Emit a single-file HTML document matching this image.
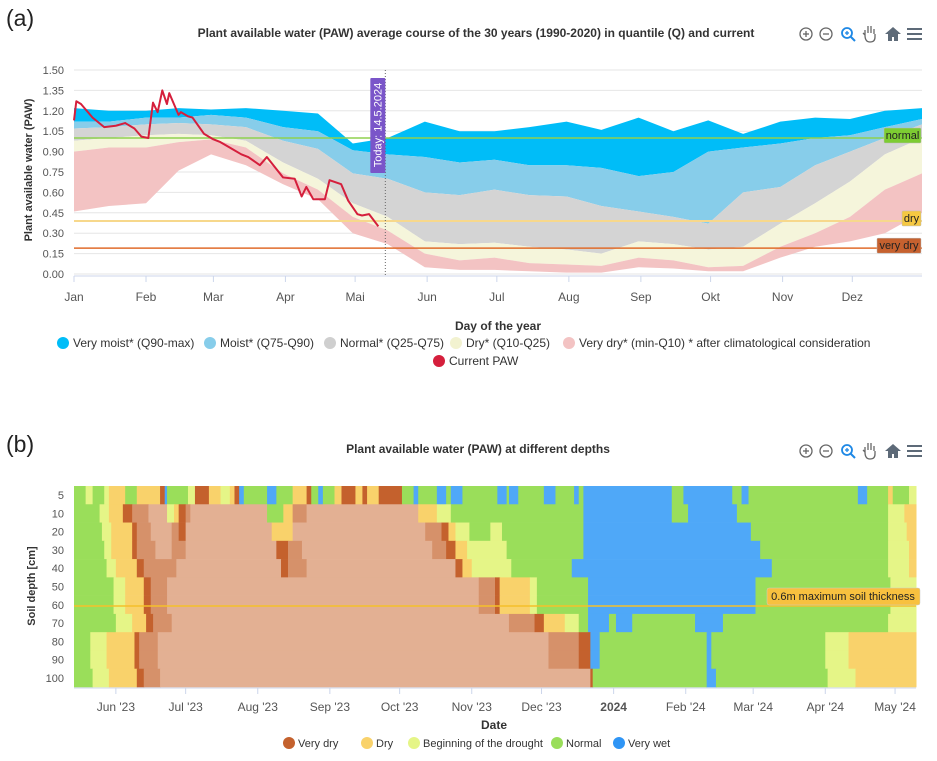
<!DOCTYPE html>
<html><head><meta charset="utf-8"><style>
body{margin:0;background:#fff;font-family:"Liberation Sans",sans-serif;}
svg text{font-family:"Liberation Sans",sans-serif;}
</style></head><body>
<svg id="s" width="937" height="756" viewBox="0 0 937 756" xmlns="http://www.w3.org/2000/svg">
<text x="6" y="26" font-size="23" fill="#222">(a)</text>
<text x="476" y="37" font-size="12" font-weight="bold" fill="#333" text-anchor="middle">Plant available water (PAW) average course of the 30 years (1990-2020) in quantile (Q) and current</text>
<g id="gA"></g>
<text x="6" y="452" font-size="23" fill="#222">(b)</text>
<text x="478" y="453" font-size="12" font-weight="bold" fill="#333" text-anchor="middle">Plant available water (PAW) at different depths</text>
<g id="gB"></g>
</svg>
<script>
// ---------- Chart A data ----------
const bandDays=[0,15,31,45,59,74,90,105,120,135,151,166,181,196,212,227,243,258,273,288,304,319,334,349,365];
const qMax=[1.22,1.20,1.20,1.22,1.21,1.22,1.20,1.18,0.96,1.00,1.12,1.05,1.05,1.08,1.12,1.06,1.15,1.05,1.13,1.03,1.12,1.15,1.14,1.20,1.22];
const q90=[1.12,1.12,1.15,1.15,1.17,1.15,1.08,1.05,0.91,0.88,0.86,0.82,0.84,0.80,0.80,0.78,0.72,0.75,0.90,0.93,0.96,1.00,1.02,1.08,1.14];
const q75=[1.07,1.08,1.10,1.11,1.10,1.08,0.98,0.92,0.74,0.70,0.60,0.58,0.62,0.58,0.57,0.50,0.46,0.42,0.37,0.60,0.64,0.80,0.90,1.00,1.10];
const q25=[0.98,1.00,1.02,1.03,1.02,0.98,0.82,0.70,0.52,0.42,0.24,0.22,0.23,0.20,0.18,0.15,0.24,0.22,0.18,0.20,0.37,0.52,0.68,0.88,1.00];
const q10=[0.90,0.93,0.93,0.97,0.99,0.93,0.74,0.62,0.42,0.32,0.15,0.10,0.12,0.08,0.07,0.06,0.12,0.10,0.05,0.06,0.20,0.30,0.42,0.62,0.74];
const qMin=[0.46,0.50,0.52,0.76,0.88,0.80,0.66,0.55,0.30,0.22,0.05,0.03,0.03,0.02,0.01,0.01,0.05,0.04,0.02,0.02,0.12,0.20,0.24,0.30,0.45];
const pawDays=[0,1,3,8,13,18,22,26,29,32,34,36,38,40,41,45,46,49,51,56,60,63,67,72,75,80,83,90,95,98,100,103,108,110,115,118,122,124,127,131];
const pawVals=[1.13,1.27,1.25,1.15,1.08,1.09,1.11,1.07,1.01,1.00,1.26,1.19,1.35,1.25,1.33,1.17,1.19,1.16,1.15,1.03,0.99,0.97,0.93,0.88,0.86,0.80,0.86,0.71,0.70,0.57,0.64,0.55,0.55,0.69,0.66,0.54,0.44,0.43,0.44,0.35];
const yTicksA=[0,0.15,0.30,0.45,0.60,0.75,0.90,1.05,1.20,1.35,1.50];
const monthsA=["Jan","Feb","Mar","Apr","Mai","Jun","Jul","Aug","Sep","Okt","Nov","Dez"];
const monthStartA=[0,31,60,91,121,152,182,213,244,274,305,335];
const thresholds=[1.0,0.39,0.19];
const todayDay=134;
// ---------- Chart B data ----------
const depths=[5,10,20,30,40,50,60,70,80,90,100];
const rowRuns=[
 [[0,5],[5,4],[8,5],[13,4],[15,3],[22,5],[27,3],[37,2],[39,6],[40,5],[49,4],[52,2],[58,3],[63,4],[67,3],[69,2],[71,6],[73,5],[83,6],[87,5],[94,3],[100,2],[102,5],[105,6],[107,5],[112,3],[115,2],[121,3],[124,2],[126,3],[131,2],[141,5],[146,6],[148,5],[156,6],[160,5],[162,6],[167,5],[182,6],[186,5],[187,6],[191,5],[202,6],[207,5],[215,6],[217,5],[219,6],[257,5],[262,6],[283,5],[287,6],[290,5],[337,6],[341,5],[350,3],[352,5],[359,4]],
 [[0,5],[11,4],[15,3],[21,2],[25,1],[32,0],[40,4],[43,3],[45,2],[48,1],[50,0],[83,5],[90,3],[94,1],[100,0],[148,3],[156,4],[162,5],[219,6],[257,5],[264,6],[285,5],[350,4],[357,3]],
 [[0,5],[12,4],[16,3],[25,2],[27,1],[33,0],[42,1],[45,2],[48,0],[85,3],[94,0],[151,1],[158,2],[161,3],[164,4],[170,5],[179,4],[184,5],[219,6],[291,5],[350,4],[358,3]],
 [[0,5],[13,4],[16,3],[25,2],[27,1],[35,0],[42,1],[48,0],[87,2],[92,1],[98,0],[154,1],[160,2],[164,3],[169,4],[186,5],[219,6],[295,5],[350,4],[359,3]],
 [[0,5],[14,4],[18,3],[27,2],[30,1],[44,0],[89,2],[92,1],[100,0],[164,2],[167,3],[171,4],[188,5],[214,6],[300,5],[350,4],[359,3]],
 [[0,5],[17,4],[22,3],[30,2],[33,1],[40,0],[174,1],[181,2],[183,3],[196,4],[199,5],[221,6],[293,5],[351,4]],
 [[0,5],[17,4],[22,3],[30,2],[33,1],[40,0],[174,1],[181,2],[183,3],[196,4],[199,5],[221,6],[293,5],[351,4]],
 [[0,5],[18,4],[25,3],[31,2],[34,1],[42,0],[187,1],[198,2],[202,3],[211,4],[217,5],[221,6],[230,5],[233,6],[240,5],[267,6],[279,5],[350,4]],
 [[0,5],[7,4],[14,3],[26,2],[28,1],[36,0],[204,1],[217,2],[222,6],[226,5],[272,6],[274,5],[323,4],[333,3]],
 [[0,5],[7,4],[14,3],[26,2],[28,1],[36,0],[204,1],[217,2],[222,6],[226,5],[272,6],[274,5],[323,4],[333,3]],
 [[0,5],[8,4],[15,3],[27,2],[30,1],[37,0],[222,2],[223,5],[272,6],[276,5],[324,4],[336,3]]
];
const catColors=["#e3b093","#d6916a","#c4612d","#f9d26b","#e5f587","#9ade5a","#4fa8f8"];
const monthsB=["Jun '23","Jul '23","Aug '23","Sep '23","Oct '23","Nov '23","Dec '23","2024","Feb '24","Mar '24","Apr '24","May '24"];
const monthStartB=[18,48,79,110,140,171,201,232,263,292,323,353];
const totalDaysB=362;

const NS="http://www.w3.org/2000/svg";
function mk(tag,attrs,parent,txt){const e=document.createElementNS(NS,tag);for(const k in attrs)e.setAttribute(k,attrs[k]);if(txt!==undefined)e.textContent=txt;parent.appendChild(e);return e;}

// ---------- Chart A ----------
const gA=document.getElementById('gA');
const AX0=74,AX1=922,AY0=274,AY1=70;
const xA=d=>AX0+d*(AX1-AX0)/365;
const yA=v=>AY0-v*(AY0-AY1)/1.5;
yTicksA.forEach(v=>{
 const l=mk('line',{x1:AX0,x2:AX1,y1:yA(v),y2:yA(v),stroke:'#e6e6e6','stroke-width':1},gA);
 
 
 const t=mk('text',{x:64,y:yA(v)+4,'font-size':11,fill:'#555','text-anchor':'end'},gA,v.toFixed(2));
 
 
});
function band(up,lo,color,name){
 let pts=bandDays.map((d,i)=>xA(d)+','+yA(up[i]));
 for(let i=bandDays.length-1;i>=0;i--)pts.push(xA(bandDays[i])+','+yA(lo[i]));
 const p=mk('polygon',{points:pts.join(' '),fill:color},gA);
 
 
}
band(qMax,q90,'#00bdf8','band-very-moist');
band(q90,q75,'#87cdea','band-moist');
band(q75,q25,'#d4d4d4','band-normal');
band(q25,q10,'#f5f5db','band-dry');
band(q10,qMin,'#f3c3c3','band-very-dry');
const thColors=['#8fd14f','#f7d88c','#e06c2b'];
thresholds.forEach((v,i)=>{
 const l=mk('line',{x1:AX0,x2:AX1,y1:yA(v),y2:yA(v),stroke:thColors[i],'stroke-width':i==1?2:1.5},gA);
 
 
});
const axl=mk('line',{x1:AX0,x2:AX1,y1:AY0+2,y2:AY0+2,stroke:'#ccd6eb','stroke-width':1},gA);


monthsA.forEach((m,i)=>{
 const x=xA(monthStartA[i]);
 const tk=mk('line',{x1:x,x2:x,y1:AY0+2,y2:AY0+8,stroke:'#ccd6eb'},gA);
 
 
 const t=mk('text',{x:x,y:301,'font-size':12,fill:'#555','text-anchor':'middle'},gA,m);
 
 
});
const pl=mk('polyline',{points:pawDays.map((d,i)=>xA(d)+','+yA(pawVals[i])).join(' '),fill:'none',stroke:'#d51f3c','stroke-width':2,'stroke-linejoin':'round'},gA);


const tx=xA(todayDay);
const tl=mk('line',{x1:tx,x2:tx,y1:AY1,y2:AY0+2,stroke:'#666','stroke-dasharray':'1,2'},gA);


const tb=mk('rect',{x:tx-15,y:78,width:15,height:95,fill:'#7a55c9',rx:1},gA);


const tt=mk('text',{x:0,y:0,'font-size':11,fill:'#fff','text-anchor':'middle',transform:`translate(${tx-4},125) rotate(-90)`},gA,'Today: 14.5.2024');


[['normal',884,'#7dcc32',1.0,'#222'],['dry',902,'#f5c842',0.39,'#222'],['very dry',877,'#c6612f',0.19,'#222']].forEach(([lab,x,c,v,tc])=>{
 const y=yA(v)-16;
 const r=mk('rect',{x:x,y:y+6,width:921-x,height:15,fill:c,stroke:'#bbb','stroke-width':0.5,rx:1},gA);
 
 
 const t=mk('text',{x:(x+921)/2,y:y+17,'font-size':11,fill:tc,'text-anchor':'middle'},gA,lab);
 
 
});
const yt=mk('text',{x:0,y:0,'font-size':11,'font-weight':'bold',fill:'#333','text-anchor':'middle',transform:'translate(32,170) rotate(-90)'},gA,'Plant available water (PAW)');


const xt=mk('text',{x:498,y:330,'font-size':12,'font-weight':'bold',fill:'#333','text-anchor':'middle'},gA,'Day of the year');


[[63,343,'#00bdf8','Very moist* (Q90-max)'],[210,343,'#87cdea','Moist* (Q75-Q90)'],[330,343,'#cfcfcf','Normal* (Q25-Q75)'],[456,343,'#f2f2d0','Dry* (Q10-Q25)'],[569,343,'#f3c3c3','Very dry* (min-Q10) * after climatological consideration'],[439,361,'#d51f3c','Current PAW']].forEach(([x,y,c,l])=>{
 const g=mk('g',{},gA);
 
 
 mk('circle',{cx:x,cy:y,r:6,fill:c},g);
 mk('text',{x:x+10,y:y+4,'font-size':12,fill:'#333'},g,l);
});

// ---------- toolbars ----------
function toolbar(y){
 const g=mk('g',{},document.getElementById('s'));
 
 
 const items=[['zoom-in-button',806],['zoom-out-button',826],['magnify-button',848],['pan-button',870],['home-button',893],['menu-button',914]];
 items.forEach(([n,x])=>{
  const b=mk('g',{},g);
  
  
  if(n=='zoom-in-button'||n=='zoom-out-button'){
   mk('circle',{cx:x,cy:y,r:6,fill:'none',stroke:'#666','stroke-width':1.3},b);
   mk('line',{x1:x-3,x2:x+3,y1:y,y2:y,stroke:'#666','stroke-width':1.3},b);
   if(n=='zoom-in-button')mk('line',{x1:x,x2:x,y1:y-3,y2:y+3,stroke:'#666','stroke-width':1.3},b);
  }else if(n=='magnify-button'){
   mk('circle',{cx:x-1,cy:y-1,r:5,fill:'none',stroke:'#1e88e5','stroke-width':1.8},b);
   mk('line',{x1:x+3,x2:x+7,y1:y+3,y2:y+7,stroke:'#1e88e5','stroke-width':2},b);
   mk('line',{x1:x-3,x2:x+1,y1:y-1,y2:y-1,stroke:'#1e88e5','stroke-width':1.3},b);
   mk('line',{x1:x-1,x2:x-1,y1:y-3,y2:y+1,stroke:'#1e88e5','stroke-width':1.3},b);
  }else if(n=='pan-button'){
   mk('path',{d:`M${x-5} ${y+1} l0 -5 M${x-2} ${y-1} l0 -7 M${x+1} ${y-1} l0 -7 M${x+4} ${y} l0 -5 M${x-5} ${y+1} q0 7 5 7 q5 0 5 -5 l0 -3 M${x-5} ${y+1} l-2 -2`,fill:'none',stroke:'#666','stroke-width':1.3},b);
  }else if(n=='home-button'){
   mk('path',{d:`M${x-8} ${y} L${x} ${y-7} L${x+8} ${y} L${x+5} ${y} L${x+5} ${y+7} L${x+1} ${y+7} L${x+1} ${y+3} L${x-1} ${y+3} L${x-1} ${y+7} L${x-5} ${y+7} L${x-5} ${y} Z`,fill:'#5d6a78'},b);
  }else{
   [-5,0,5].forEach(o=>mk('rect',{x:x-7,y:y+o-1,width:15,height:2,fill:'#5d6a78'},b));
  }
 });
}
toolbar(34);toolbar(451);

// ---------- Chart B ----------
const gB=document.getElementById('gB');
const BX0=74,BX1=916,BY0=486,BY1=687;
const rowH=(BY1-BY0)/depths.length;
const xB=d=>BX0+d*(BX1-BX0)/totalDaysB;
rowRuns.forEach((runs,ri)=>{
 runs.forEach((r,j)=>{
  const end=j<runs.length-1?runs[j+1][0]:totalDaysB;
  const rc=mk('rect',{x:xB(r[0]),y:BY0+ri*rowH,width:xB(end)-xB(r[0])+0.5,height:rowH+0.3,fill:catColors[r[1]]},gB);
  
  
 });
 const t=mk('text',{x:64,y:BY0+ri*rowH+rowH/2+4,'font-size':11,fill:'#555','text-anchor':'end'},gB,depths[ri]);
 
 
});
const bl=mk('line',{x1:BX0,x2:BX1,y1:BY1+1,y2:BY1+1,stroke:'#ccd6eb'},gB);


monthsB.forEach((m,i)=>{
 const x=xB(monthStartB[i]);
 const tk=mk('line',{x1:x,x2:x,y1:BY1+1,y2:BY1+7,stroke:'#ccd6eb'},gB);
 
 
 const t=mk('text',{x:x,y:711,'font-size':12,fill:'#555','text-anchor':'middle','font-weight':m=='2024'?'bold':'normal'},gB,m);
 
 
});
const sl=mk('line',{x1:BX0,x2:BX1,y1:606,y2:606,stroke:'#f5c02a','stroke-width':1.5},gB);


const sb=mk('rect',{x:767,y:588,width:153,height:17,fill:'#f8c13f',stroke:'#ccc','stroke-width':0.5,rx:2},gB);


const st=mk('text',{x:843,y:600,'font-size':11,fill:'#222','text-anchor':'middle'},gB,'0.6m maximum soil thickness');


const byt=mk('text',{x:0,y:0,'font-size':11,'font-weight':'bold',fill:'#333','text-anchor':'middle',transform:'translate(35,586) rotate(-90)'},gB,'Soil depth [cm]');


const bxt=mk('text',{x:494,y:729,'font-size':12,'font-weight':'bold',fill:'#333','text-anchor':'middle'},gB,'Date');


[[289,'#c4612d','Very dry'],[367,'#f9d26b','Dry'],[414,'#e5f587','Beginning of the drought'],[557,'#9ade5a','Normal'],[619,'#2f95f5','Very wet']].forEach(([x,c,l])=>{
 const g=mk('g',{},gB);
 
 
 mk('circle',{cx:x,cy:743,r:6,fill:c},g);
 mk('text',{x:x+9,y:747,'font-size':11,fill:'#333'},g,l);
});
</script>
</body></html>
